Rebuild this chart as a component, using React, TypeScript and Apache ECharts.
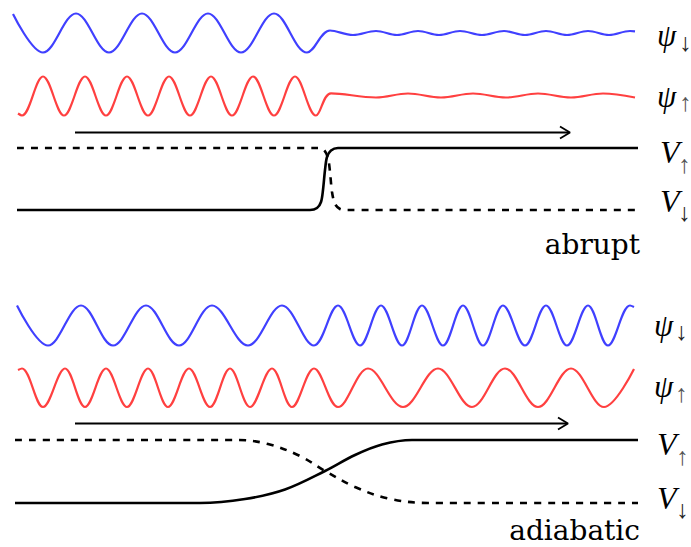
import React, { useEffect, useRef } from "react";
import * as echarts from "echarts";

// Coordinates (x, y in the drawing's own units; y grows downward)

// ---- abrupt panel ----
const psiDownAbrupt: number[][] = [
  [13, 14], [43, 52.5], [76, 13.5], [109, 52.5], [142, 13.5], [175, 52.5], [208, 13.5],
  [241, 52.5], [274, 13.5], [307, 52.5], [330, 30.5], [353, 35], [376, 31], [397, 35],
  [418, 31], [439, 35], [460, 31], [482, 35], [504, 31], [525, 35], [546, 31], [567, 35],
  [588, 31], [609, 35], [630, 31], [635, 31.3],
];
const psiUpAbrupt: number[][] = [
  [18, 113.5], [22, 115.5], [43, 76.5], [64, 115.5], [85, 76.5], [106, 115.5], [127, 76.5],
  [148, 115.5], [169, 76.5], [190, 115.5], [211, 76.5], [232, 115.5], [253, 76.5],
  [274, 115.5], [295, 76.5], [316, 115.5], [331, 93.3], [376, 97.5], [408, 93.5],
  [441, 97.5], [473, 93.5], [506, 97.5], [538, 93.5], [571, 97.5], [603, 93.5], [635, 97.5],
];
const vSolidAbrupt: number[][] = [
  [17, 210], [310, 210], [317, 208], [321, 202], [323, 190], [325, 170], [327, 157],
  [331, 150.5], [338, 148], [638, 148],
];
const vDashedAbrupt: number[][] = [
  [17, 148], [318, 148], [324, 150], [328, 158], [330, 172], [332, 192], [335, 204],
  [340, 209], [346, 210], [638, 210],
];
const arrowAbrupt: number[][] = [[75, 132.5], [569, 132.5]];
const arrowHeadAbrupt: number[][] = [[560, 126.5], [570, 132.5], [560, 138.5]];

// ---- adiabatic panel ----
const psiDownAdiabatic: number[][] = [
  [17, 305.5], [48, 345.5], [81, 305.5], [113, 345.5], [146, 305.5], [179, 345.5],
  [212, 305.5], [248, 345.5], [282, 305.5], [314, 345.5], [338, 305.5], [360, 345.5],
  [381, 305.5], [402, 345.5], [422, 305.5], [443, 345.5], [463, 305.5], [483, 345.5],
  [503, 305.5], [525, 345.5], [546, 305.5], [567, 345.5], [588, 305.5], [608, 345.5],
  [630, 305.5], [634, 307],
];
const psiUpAdiabatic: number[][] = [
  [18, 370], [22, 368.5], [43, 407], [65, 368.5], [85, 407], [106, 368.5], [127, 407],
  [148, 368.5], [168, 407], [189, 368.5], [210, 407], [230, 368.5], [250, 407],
  [272, 368.5], [292, 407], [314, 368.5], [338, 407], [368, 368.5], [403, 407],
  [438, 368.5], [472, 407], [505, 368.5], [538, 407], [571, 368.5], [604, 407], [634, 369],
];
const vSolidAdiabatic: number[][] = [
  [15, 503], [200, 503], [245, 499], [285, 489.5], [325, 471], [355, 455], [382, 444.5],
  [412, 440], [638, 440],
];
const vDashedAdiabatic: number[][] = [
  [15, 440], [238, 440], [268, 444], [300, 456], [326, 471.5], [355, 487], [388, 498.5],
  [428, 503], [638, 503],
];
const arrowAdiabatic: number[][] = [[75, 423.5], [567, 423.5]];
const arrowHeadAdiabatic: number[][] = [[558, 417.5], [568, 423.5], [558, 429.5]];

// labels
const panelLabels = ["abrupt", "adiabatic"];

const BLUE = "#4040ff";
const RED = "#ff4040";

const wave = (data: number[][], color: string) => ({
  type: "line",
  data,
  smooth: 0.36,
  symbol: "none",
  silent: true,
  lineStyle: { color, width: 2.2 },
});

const blackLine = (data: number[][], dashed: boolean, width = 2.6, smooth: number | boolean = 0.3) => ({
  type: "line",
  data,
  smooth,
  symbol: "none",
  silent: true,
  lineStyle: { color: "#000", width, type: dashed ? [7, 7] : "solid", cap: "butt" },
});

const mathFont = "'Liberation Serif', 'DejaVu Serif', serif";
const romanFont = "'DejaVu Serif', 'Liberation Serif', serif";
const arrowFont = "'Liberation Serif', 'DejaVu Serif', serif";

const txt = (
  text: string,
  x: number,
  y: number,
  size: number,
  opts: { italic?: boolean; align?: string; color?: string; family?: string } = {}
) => ({
  type: "text",
  x,
  y,
  silent: true,
  style: {
    text,
    fill: opts.color || "#000",
    font: `${opts.italic ? "italic " : ""}${size}px ${opts.family || romanFont}`,
    textAlign: opts.align || "left",
    textVerticalAlign: "middle",
  },
});

const psi = (x: number, y: number) => txt("ψ", x, y, 31, { italic: true, family: mathFont });
const vee = (x: number, y: number) => txt("V", x, y, 32, { italic: true, family: mathFont });
const sub = (s: string, x: number, y: number) =>
  txt(s, x, y, 25, { align: "left", color: s === "↑" ? "#555" : "#222", family: arrowFont });

export default function App() {
  const ref = useRef<HTMLDivElement>(null);
  useEffect(() => {
    document.body.style.margin = "0";
    const chart = echarts.init(ref.current!, null, { renderer: "svg" });
    chart.setOption({
      animation: false,
      backgroundColor: "#fff",
      grid: { left: 0, right: 0, top: 0, bottom: 0 },
      xAxis: { type: "value", min: 0, max: 691, show: false },
      yAxis: { type: "value", min: 0, max: 547, inverse: true, show: false },
      series: [
        wave(psiDownAbrupt, BLUE),
        wave(psiUpAbrupt, RED),
        blackLine(vDashedAbrupt, true),
        blackLine(vSolidAbrupt, false),
        blackLine(arrowAbrupt, false, 1.8, false),
        blackLine(arrowHeadAbrupt, false, 1.8, false),
        wave(psiDownAdiabatic, BLUE),
        wave(psiUpAdiabatic, RED),
        blackLine(vDashedAdiabatic, true, 2.6, 0.35),
        blackLine(vSolidAdiabatic, false, 2.6, 0.35),
        blackLine(arrowAdiabatic, false, 1.8, false),
        blackLine(arrowHeadAdiabatic, false, 1.8, false),
      ],
      graphic: [
        // abrupt
        psi(657, 35),
        sub("↓", 679, 42),
        psi(657, 96),
        sub("↑", 679, 102),
        vee(660, 152),
        sub("↑", 678, 164),
        vee(660, 201),
        sub("↓", 678, 212),
        txt(panelLabels[0], 640, 244, 28, { align: "right" }),
        // adiabatic
        psi(654, 325),
        sub("↓", 675, 331),
        psi(654, 386),
        sub("↑", 675, 393),
        vee(657, 444),
        sub("↑", 676, 456),
        vee(657, 498),
        sub("↓", 676, 509),
        txt(panelLabels[1], 640, 530, 28, { align: "right" }),
      ],
    });
    return () => chart.dispose();
  }, []);
  return <div ref={ref} style={{ width: 691, height: 547 }} />;
}
